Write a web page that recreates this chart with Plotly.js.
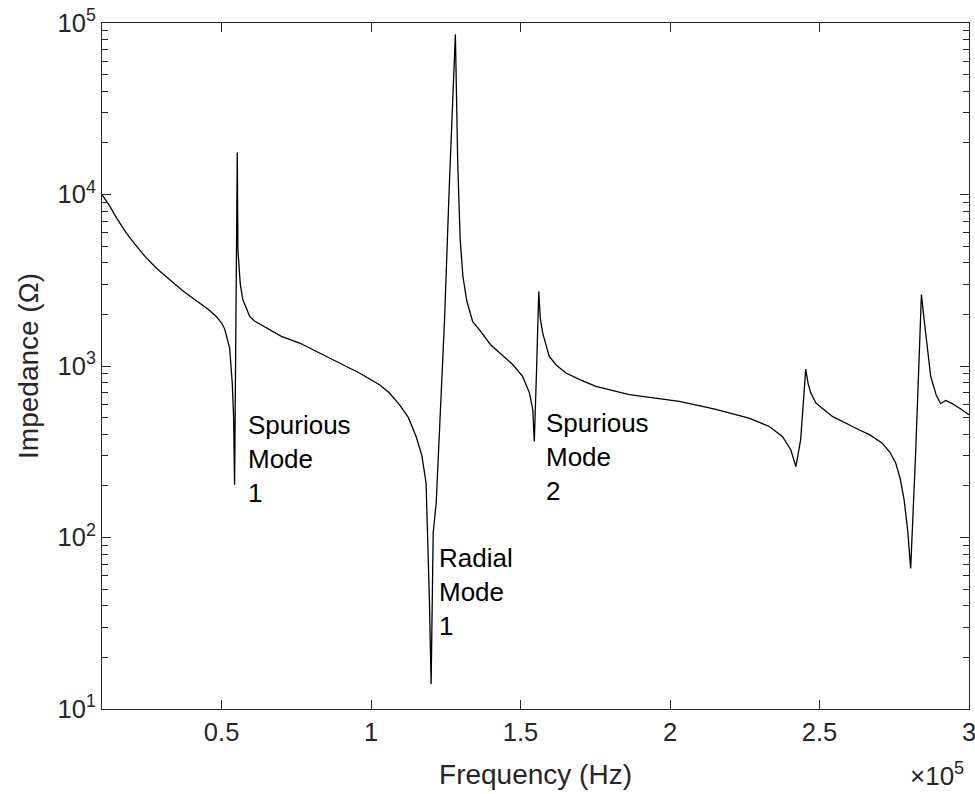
<!DOCTYPE html>
<html>
<head>
<meta charset="utf-8">
<script src="https://cdn.plot.ly/plotly-3.0.1.min.js"></script>
<style>html,body{margin:0;padding:0;background:#fff;}</style>
</head>
<body>
<div id="chart" style="width:975px;height:794px;"></div>
<script>
// Frequency (Hz)
const frequency = [
  10000, 12600, 15000, 18100, 21000, 24800, 28500, 32600, 37000, 42600, 45500, 48200,
  50000, 51000, 52700, 53570, 54020, 54350,
  55250, 55450, 56250, 57100, 59400, 61000, 64900, 70000, 76100, 82000, 87200, 96100,
  102800, 106000, 109500, 112500, 115100, 117000, 118400, 118960, 119520, 120090,
  120450, 120780, 121800, 122880, 124000, 124550, 126200, 127300, 128200, 129000, 129800,
  130700, 132000, 134000, 136200, 140000,
  141800, 147400, 150700, 153000, 154100, 154600, 155400, 156100, 156600, 157400, 159600,
  162000, 165200, 170000, 175200, 186400, 203100, 215000, 226400, 233200, 237600, 240400,
  242100, 243700, 245400, 246200, 247100, 248800, 254300, 258000, 263200, 267000, 271000,
  273500, 275500, 277000, 278300, 279500,
  280500, 282200, 283300, 284100, 284800, 285500, 286300, 287200, 289000, 290500, 292200,
  294400, 297000, 300000
];
// Impedance (Ohm)
const impedance = [
  10000, 8550, 7240, 5970, 5130, 4270, 3680, 3190, 2750, 2330, 2140, 1945,
  1780, 1650, 1270, 796, 508, 203,
  17600, 4800, 3000, 2440, 1945, 1830, 1667, 1490, 1361, 1210, 1089, 910,
  778, 700, 596, 500, 387, 300, 208, 106, 43, 14,
  43, 106, 160, 387, 977, 1810, 11600, 39900, 86000, 15000, 5500,
  3360, 2400, 1812, 1630, 1330,
  1245, 1020, 869, 695, 556, 363, 1000, 2720, 1900, 1560, 1138,
  1010, 910, 830, 760, 681, 621, 560, 497, 444, 388, 325,
  259, 371, 960, 790, 695, 608, 508, 470, 425, 395, 355,
  315, 272, 220, 166, 110,
  66, 324, 1245, 2610, 2000, 1560, 1150, 869, 680, 603, 630,
  603, 565, 520
];

const xTickVals = [50000, 100000, 150000, 200000, 250000, 300000];
const xTickText = ['0.5', '1', '1.5', '2', '2.5', '3'];
const yTickVals = [10, 100, 1000, 10000, 100000];
const yTickText = ['10<sup>1</sup>', '10<sup>2</sup>', '10<sup>3</sup>', '10<sup>4</sup>', '10<sup>5</sup>'];

// Annotation labels: text, frequency, log10 impedance of top edge
const labelTexts = ['Spurious<br>Mode<br>1', 'Radial<br>Mode<br>1', 'Spurious<br>Mode<br>2'];
const labelX = [58260, 122200, 158000];
const labelY = [2.755, 1.98, 2.765];

const axisColor = '#262626';
const fontFam = '"Liberation Sans", Arial, Helvetica, sans-serif';

const trace = {
  x: frequency,
  y: impedance,
  type: 'scatter',
  mode: 'lines',
  line: {color: '#000000', width: 1.3},
  hoverinfo: 'x+y'
};

const annotations = labelTexts.map((t, i) => ({
  x: labelX[i], y: labelY[i], xref: 'x', yref: 'y',
  text: t, showarrow: false, xanchor: 'left', yanchor: 'top', align: 'left',
  font: {family: fontFam, size: 26, color: '#000000'}
}));
annotations.push({
  x: 0.997, y: -0.1225, xref: 'paper', yref: 'paper',
  text: '\u00d710<sup>5</sup>', showarrow: false, xanchor: 'right', yanchor: 'bottom',
  font: {family: fontFam, size: 26, color: axisColor}
});

const layout = {
  width: 975, height: 794,
  margin: {l: 102, r: 6, t: 23, b: 85},
  showlegend: false,
  font: {family: fontFam, color: axisColor},
  xaxis: {
    range: [10000, 300010],
    tickmode: 'array', tickvals: xTickVals, ticktext: xTickText,
    ticks: 'inside', ticklen: 9, tickwidth: 1, tickcolor: axisColor,
    showline: true, linecolor: axisColor, linewidth: 1, mirror: 'ticks',
    showgrid: false, zeroline: false, ticklabeloverflow: 'allow',
    tickfont: {family: fontFam, size: 25.5, color: axisColor},
    title: {text: 'Frequency (Hz)', font: {family: fontFam, size: 28, color: axisColor}, standoff: 19}
  },
  yaxis: {
    type: 'log', range: [1, 5],
    tickmode: 'array', tickvals: yTickVals, ticktext: yTickText,
    ticks: 'inside', ticklen: 9, tickwidth: 1, tickcolor: axisColor,
    minor: {ticks: 'inside', ticklen: 6, tickwidth: 1, dtick: 'D1', tickcolor: axisColor, showgrid: false},
    showline: true, linecolor: axisColor, linewidth: 1, mirror: 'ticks',
    showgrid: false, zeroline: false,
    tickfont: {family: fontFam, size: 25.5, color: axisColor},
    title: {text: 'Impedance (\u03a9)', font: {family: fontFam, size: 28, color: axisColor}, standoff: 10}
  },
  annotations: annotations
};

Plotly.newPlot('chart', [trace], layout, {displayModeBar: false});
</script>
</body>
</html>
